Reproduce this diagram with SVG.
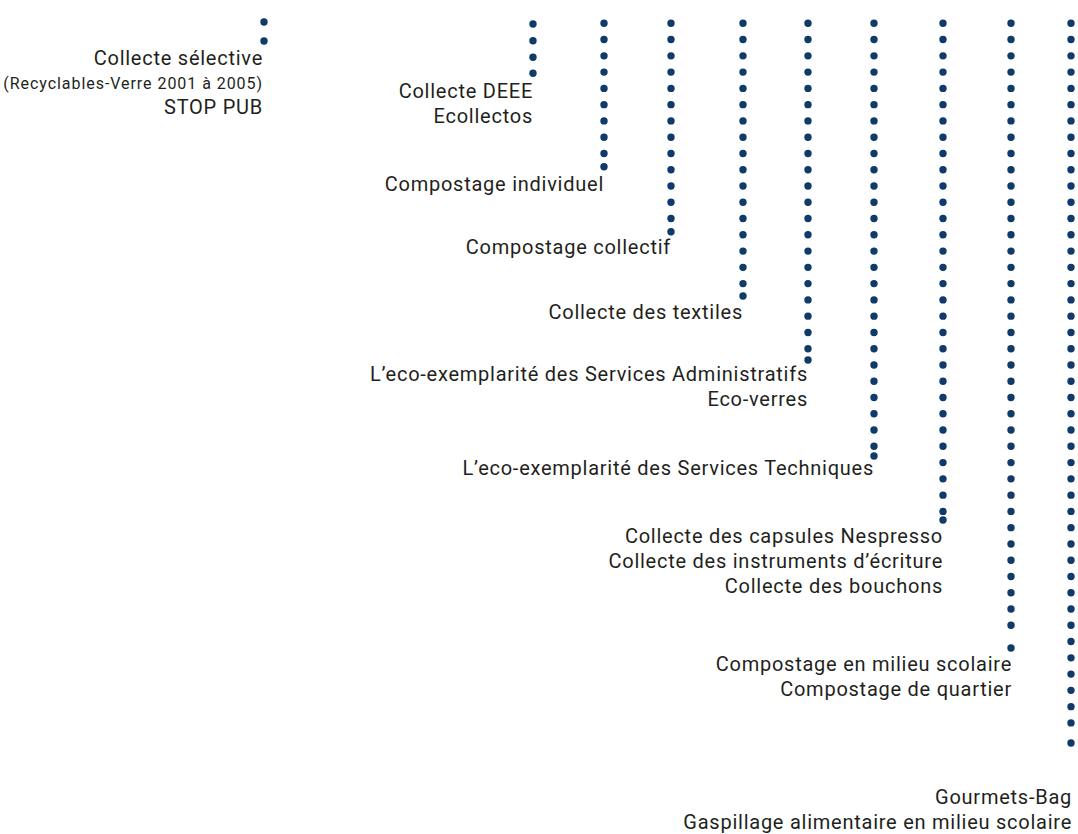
<svg xmlns="http://www.w3.org/2000/svg" width="1078" height="834" viewBox="0 0 1078 834">
<style>
.lbl{font-family:Roboto,"Liberation Sans",sans-serif;font-size:20px;letter-spacing:0.75px;fill:#231f20;text-anchor:end}
.sm{font-family:Roboto,"Liberation Sans",sans-serif;font-size:16px;letter-spacing:0.95px;fill:#231f20;text-anchor:end}
.dots{stroke:#103a6a;stroke-width:7.4;stroke-linecap:round;stroke-dasharray:0 16.27;fill:none}
.dot{fill:#103a6a}
</style>
<rect width="1078" height="834" fill="#ffffff"/>
<g id="connectors">
<circle class="dot" cx="264" cy="22" r="3.7"/>
<circle class="dot" cx="264" cy="41" r="3.7"/>
<circle class="dot" cx="533" cy="24" r="3.7"/>
<circle class="dot" cx="533" cy="40.7" r="3.7"/>
<circle class="dot" cx="533" cy="57.3" r="3.7"/>
<circle class="dot" cx="533" cy="73.3" r="3.7"/>
<line class="dots" x1="604" y1="23.3" x2="604" y2="154"/>
<circle class="dot" cx="604" cy="166.7" r="3.7"/>
<line class="dots" x1="671" y1="23.3" x2="671" y2="219"/>
<circle class="dot" cx="671" cy="231.7" r="3.7"/>
<line class="dots" x1="743" y1="23.3" x2="743" y2="284"/>
<circle class="dot" cx="743" cy="296" r="3.7"/>
<line class="dots" x1="808" y1="23.3" x2="808" y2="349"/>
<circle class="dot" cx="808" cy="360" r="3.7"/>
<line class="dots" x1="874" y1="23.3" x2="874" y2="447"/>
<circle class="dot" cx="874" cy="456" r="3.7"/>
<line class="dots" x1="943" y1="23.3" x2="943" y2="512"/>
<circle class="dot" cx="943" cy="520" r="3.7"/>
<line class="dots" x1="1011" y1="23.3" x2="1011" y2="626"/>
<circle class="dot" cx="1011" cy="648" r="3.7"/>
<line class="dots" x1="1071" y1="23.3" x2="1071" y2="723.5"/>
<circle class="dot" cx="1071" cy="743" r="3.7"/>
</g>
<g id="n-collecte-selective">
<text class="lbl" x="263" y="65">Collecte sélective</text>
<text class="sm" x="263" y="89">(Recyclables-Verre 2001 à 2005)</text>
<text class="lbl" x="263" y="114">STOP PUB</text>
</g>
<g id="n-deee">
<text class="lbl" x="533" y="98">Collecte DEEE</text>
<text class="lbl" x="533" y="123">Ecollectos</text>
</g>
<g id="n-compostage-individuel">
<text class="lbl" x="604" y="190.5">Compostage individuel</text>
</g>
<g id="n-compostage-collectif">
<text class="lbl" x="671" y="253.5">Compostage collectif</text>
</g>
<g id="n-textiles">
<text class="lbl" x="743" y="318.5">Collecte des textiles</text>
</g>
<g id="n-eco-admin">
<text class="lbl" x="808" y="381">L’eco-exemplarité des Services Administratifs</text>
<text class="lbl" x="808" y="406">Eco-verres</text>
</g>
<g id="n-eco-tech">
<text class="lbl" x="874" y="474.5">L’eco-exemplarité des Services Techniques</text>
</g>
<g id="n-nespresso">
<text class="lbl" x="943" y="542.5">Collecte des capsules Nespresso</text>
<text class="lbl" x="943" y="567.5">Collecte des instruments d’écriture</text>
<text class="lbl" x="943" y="592.5">Collecte des bouchons</text>
</g>
<g id="n-compostage-scolaire">
<text class="lbl" x="1012" y="671">Compostage en milieu scolaire</text>
<text class="lbl" x="1012" y="696">Compostage de quartier</text>
</g>
<g id="n-gourmets">
<text class="lbl" x="1072" y="803.5">Gourmets-Bag</text>
<text class="lbl" x="1072" y="828.5">Gaspillage alimentaire en milieu scolaire</text>
</g>
</svg>
